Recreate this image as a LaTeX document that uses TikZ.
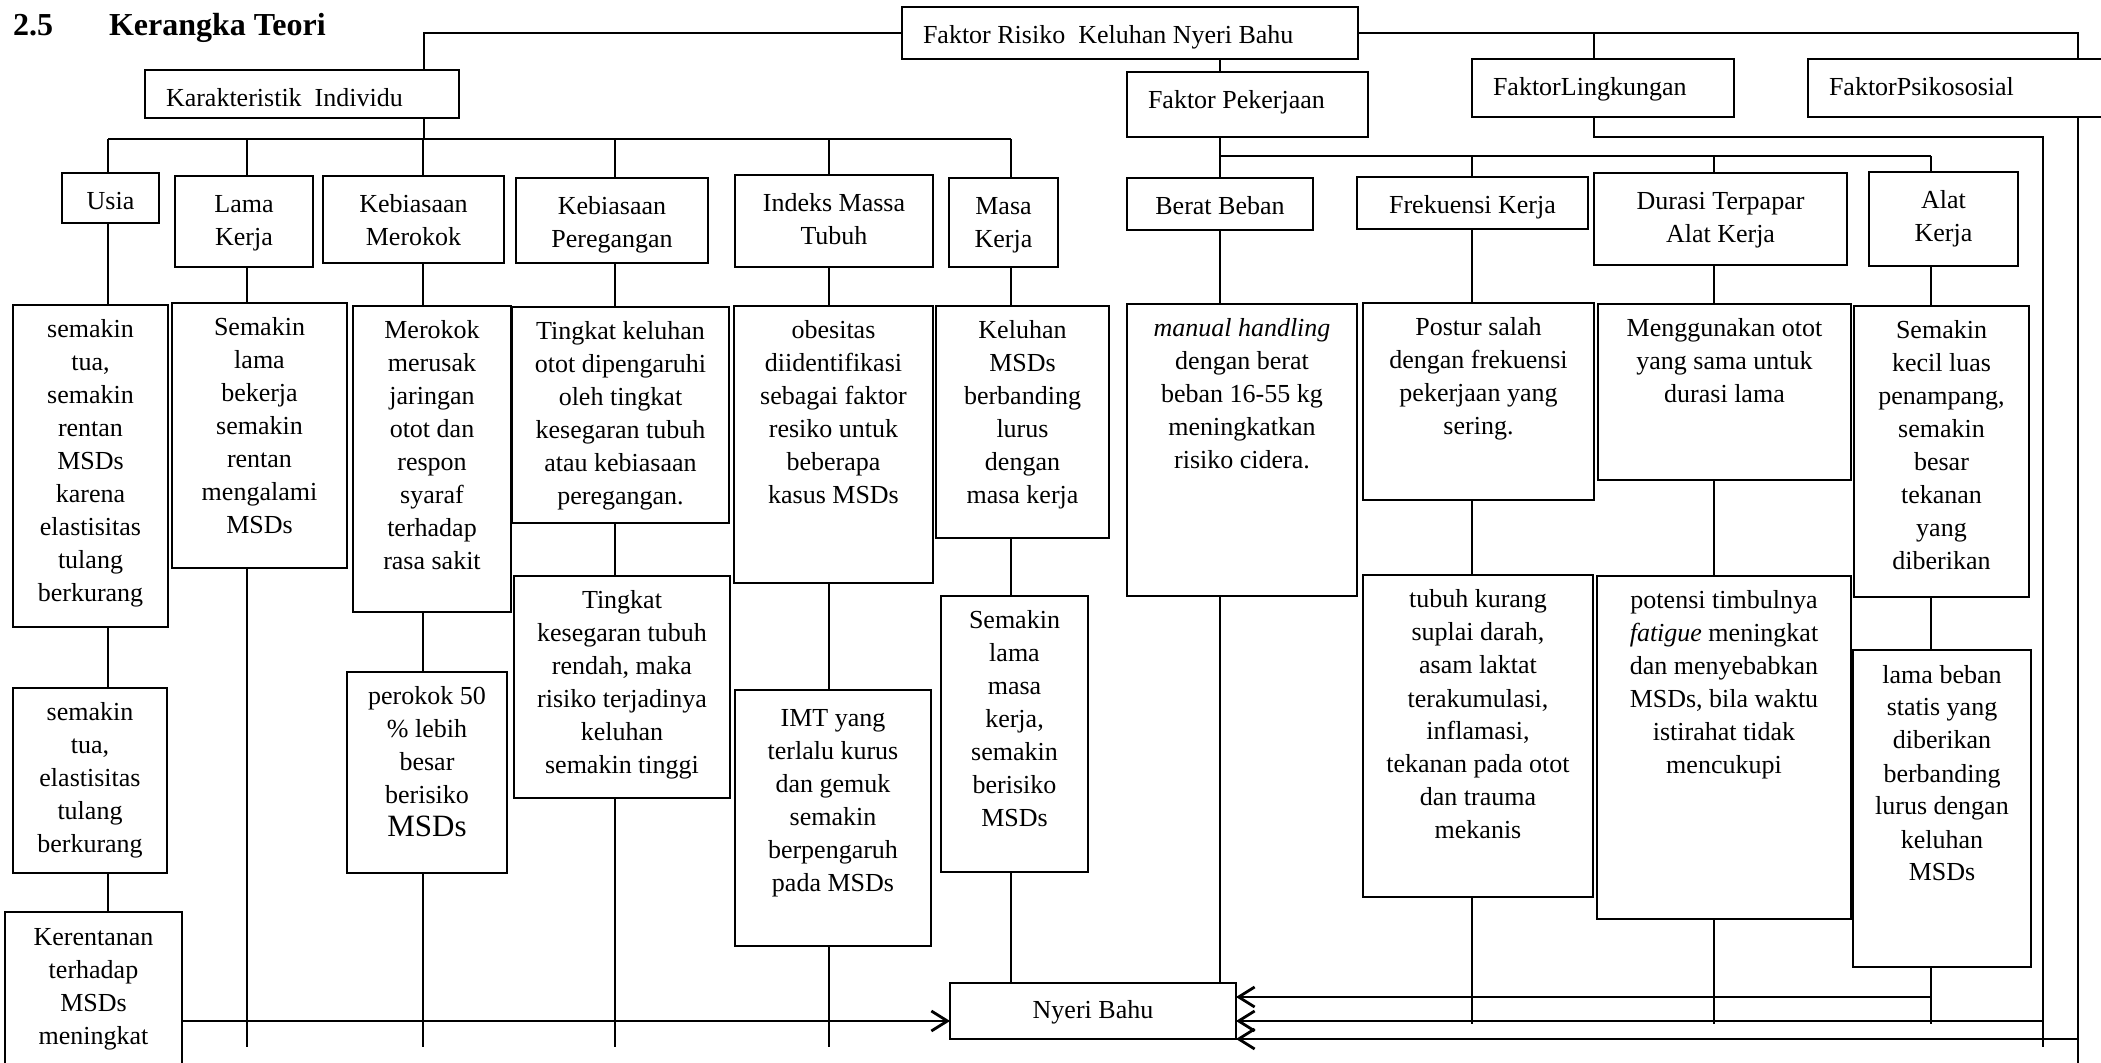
\documentclass[tikz,border=0pt]{standalone}
\usepackage{fontspec}
\setmainfont{Liberation Serif}
\usetikzlibrary{arrows.meta}
\newdimen\upx \upx=0.5pt
% isi kotak: [tinggi baris pertama] lebar, tinggi (px), teks rata tengah dari atas
\newcommand{\isi}[4][16.5pt]{\parbox[c][#3\upx][t]{#2\upx}{\fontsize{13}{16.5}\selectfont\centering\rule{0pt}{#1}#4\par}}
\newcommand{\isikiri}[3]{\parbox[c][#2\upx][t]{#1\upx}{\fontsize{13}{16.5}\selectfont\raggedright\hspace*{10.5pt}\rule{0pt}{18.5pt}#3\par}}
\tikzset{
   kotak/.style={draw, line width=1pt, inner sep=0pt, outer sep=0pt, anchor=north west},
   garis/.style={line width=0.7pt},
   jalur/.style={line width=1pt},
   panah/.style={line width=1.4pt, -{Straight Barb[length=8pt,width=10pt]}},
    }

\begin{document}
\begin{tikzpicture}[x=0.5pt,y=-0.5pt]
            \useasboundingbox (0,0) rectangle (2101,1063);
            \clip (0,0) rectangle (2101,1063);
            \node[anchor=base west, font=\fontsize{16}{19}\selectfont\bfseries] (judul) at (6,36) {2.5\hspace{28pt}Kerangka Teori};
            % faktor
            \node[kotak] (risiko) at (902,7) {\isikiri{456}{52}{Faktor Risiko\ \ Keluhan Nyeri Bahu}};
            \node[kotak] (individu) at (145,70) {\isikiri{314}{48}{Karakteristik\ \ Individu}};
            \node[kotak] (pekerjaan) at (1127,72) {\isikiri{241}{65}{Faktor Pekerjaan}};
            \node[kotak] (lingkungan) at (1472,59) {\isikiri{262}{58}{FaktorLingkungan}};
            \node[kotak] (psiko) at (1808,59) {\isikiri{330}{58}{FaktorPsikososial}};
            % karakteristik individu
            \node[kotak] (usia) at (62,173) {\isi[18.5pt]{97}{50}{Usia}};
            \node[kotak] (lama) at (175,176) {\isi[18.5pt]{138}{91}{Lama\\Kerja}};
            \node[kotak] (merokok) at (323,176) {\isi[18.5pt]{181}{87}{Kebiasaan\\Merokok}};
            \node[kotak] (regang) at (516,178) {\isi[18.5pt]{192}{85}{Kebiasaan\\Peregangan}};
            \node[kotak] (imt) at (735,175) {\isi[18.5pt]{198}{92}{Indeks Massa\\Tubuh}};
            \node[kotak] (masa) at (949,178) {\isi[18.5pt]{109}{89}{Masa\\Kerja}};
            % faktor pekerjaan
            \node[kotak] (berat) at (1127,178) {\isi[18.5pt]{186}{52}{Berat Beban}};
            \node[kotak] (frek) at (1357,177) {\isi[18.5pt]{231}{52}{Frekuensi Kerja}};
            \node[kotak] (durasi) at (1594,173) {\isi[18.5pt]{253}{92}{Durasi Terpapar\\Alat Kerja}};
            \node[kotak] (alat) at (1869,172) {\isi[18.5pt]{149}{94}{Alat\\Kerja}};
            % keterangan
            \node[kotak] (usiaa) at (13,305) {\isi{155}{322}{semakin\\tua,\\semakin\\rentan\\MSDs\\karena\\elastisitas\\tulang\\berkurang}};
            \node[kotak] (usiab) at (13,688) {\isi{154}{185}{semakin\\tua,\\elastisitas\\tulang\\berkurang}};
            \node[kotak] (rentan) at (5,912) {\isi{177}{200}{Kerentanan\\terhadap\\MSDs\\meningkat}};
            \node[kotak] (lamaa) at (172,303) {\isi{175}{265}{Semakin\\lama\\bekerja\\semakin\\rentan\\mengalami\\MSDs}};
            \node[kotak] (merokoka) at (353,306) {\isi{158}{306}{Merokok\\merusak\\jaringan\\otot dan\\respon\\syaraf\\terhadap\\rasa sakit}};
            \node[kotak] (perokok) at (347,672) {\isi{160}{201}{perokok 50\\\% lebih\\besar\\berisiko\\{\fontsize{15.5}{16.5}\selectfont MSDs}}};
            \node[kotak] (reganga) at (512,307) {\isi{217}{216}{Tingkat keluhan\\otot dipengaruhi\\oleh tingkat\\kesegaran tubuh\\atau kebiasaan\\peregangan.}};
            \node[kotak] (segar) at (514,576) {\isi{216}{222}{Tingkat\\kesegaran tubuh\\rendah, maka\\risiko terjadinya\\keluhan\\semakin tinggi}};
            \node[kotak] (obes) at (734,306) {\isi{199}{277}{obesitas\\diidentifikasi\\sebagai faktor\\resiko untuk\\beberapa\\kasus MSDs}};
            \node[kotak] (imta) at (735,690) {\isi[18.5pt]{196}{256}{IMT yang\\terlalu kurus\\dan gemuk\\semakin\\berpengaruh\\pada MSDs}};
            \node[kotak] (masaa) at (936,306) {\isi{173}{232}{Keluhan\\MSDs\\berbanding\\lurus\\dengan\\masa kerja}};
            \node[kotak] (masab) at (941,596) {\isi{147}{276}{Semakin\\lama\\masa\\kerja,\\semakin\\berisiko\\MSDs}};
            \node[kotak] (manual) at (1127,304) {\isi{230}{292}{\textit{manual handling}\\dengan berat\\beban 16-55 kg\\meningkatkan\\risiko cidera.}};
            \node[kotak] (postur) at (1363,303) {\isi{231}{197}{Postur salah\\dengan frekuensi\\pekerjaan yang\\sering.}};
            \node[kotak] (tubuh) at (1363,575) {\isi{230}{322}{tubuh kurang\\suplai darah,\\asam laktat\\terakumulasi,\\inflamasi,\\tekanan pada otot\\dan trauma\\mekanis}};
            \node[kotak] (otot) at (1598,304) {\isi{253}{176}{Menggunakan otot\\yang sama untuk\\durasi lama}};
            \node[kotak] (potensi) at (1597,576) {\isi{254}{343}{potensi timbulnya\\\textit{fatigue} meningkat\\dan menyebabkan\\MSDs, bila waktu\\istirahat tidak\\mencukupi}};
            \node[kotak] (luas) at (1854,306) {\isi{175}{291}{Semakin\\kecil luas\\penampang,\\semakin\\besar\\tekanan\\yang\\diberikan}};
            \node[kotak] (statis) at (1853,650) {\isi{178}{317}{lama beban\\statis yang\\diberikan\\berbanding\\lurus dengan\\keluhan\\MSDs}};
            \node[kotak] (nyeri) at (950,983) {\isi[17.5pt]{286}{56}{Nyeri Bahu}};
            % titik cabang
            \coordinate (ka) at (424,139);
            \coordinate (c1) at (108,139); \coordinate (c2) at (247,139);
            \coordinate (c3) at (423,139); \coordinate (c4) at (615,139);
            \coordinate (c5) at (829,139); \coordinate (c6) at (1011,139);
            \coordinate (d1) at (1220,156); \coordinate (d2) at (1472,156);
            \coordinate (d3) at (1714,156); \coordinate (d4) at (1931,156);
            \coordinate (lg) at (1594,137); \coordinate (lg2) at (2043,137);
            \coordinate (ps) at (2078,33);
            \coordinate (ujungkiri) at (0,1047); \coordinate (ujungkanan) at (0,1024);
            \coordinate (bawah) at (0,1080);
            \coordinate (y0) at (0,1021); \coordinate (y1) at (0,997);
            \coordinate (y2) at (0,1021); \coordinate (y3) at (0,1039);
            % garis
            \draw[jalur] (risiko.west) -| (ka |- individu.north);
            \draw[jalur] (risiko.east) -| (ps |- psiko.north);
            \draw[jalur] (lg |- risiko.east) -- (lg |- lingkungan.north);
            \draw[garis] (ka |- individu.south) -- (ka);
            \draw[jalur] (c1) -- (c6);
            \draw[garis] (d1 |- risiko.south) -- (d1 |- pekerjaan.north);
            \draw[garis] (d1 |- pekerjaan.south) -- (d1);
            \draw[jalur] (d1) -- (d4);
            \foreach \k/\p in {c1/usia, c2/lama, c3/merokok, c4/regang, c5/imt, c6/masa,
                               d1/berat, d2/frek, d3/durasi, d4/alat}
                \draw[garis] (\k) -- (\k |- \p.north);
            \foreach \k/\p/\q in {c1/usia/usiaa, c1/usiaa/usiab, c1/usiab/rentan,
                                  c2/lama/lamaa, c3/merokok/merokoka, c3/merokoka/perokok,
                                  c4/regang/reganga, c4/reganga/segar, c5/imt/obes, c5/obes/imta,
                                  c6/masa/masaa, c6/masaa/masab, c6/masab/nyeri,
                                  d1/berat/manual, d1/manual/nyeri, d2/frek/postur, d2/postur/tubuh,
                                  d3/durasi/otot, d3/otot/potensi, d4/alat/luas, d4/luas/statis}
                \draw[garis] (\k |- \p.south) -- (\k |- \q.north);
            \foreach \k/\p in {c2/lamaa, c3/perokok, c4/segar, c5/imta}
                \draw[garis] (\k |- \p.south) -- (\k |- ujungkiri);
            \foreach \k/\p in {d2/tubuh, d3/potensi, d4/statis}
                \draw[garis] (\k |- \p.south) -- (\k |- ujungkanan);
            \draw[jalur] (lg |- lingkungan.south) -- (lg) -- (lg2) -- (lg2 |- ujungkiri);
            \draw[jalur] (ps |- psiko.south) -- (ps |- bawah);
            % panah ke nyeri bahu
            \draw[panah] (rentan.east |- y0) -- (nyeri.west |- y0);
            \draw[panah] (d4 |- y1) -- (nyeri.east |- y1);
            \draw[panah] (lg2 |- y2) -- (nyeri.east |- y2);
            \draw[panah] (ps |- y3) -- (nyeri.east |- y3);
        \end{tikzpicture}
\end{document}
